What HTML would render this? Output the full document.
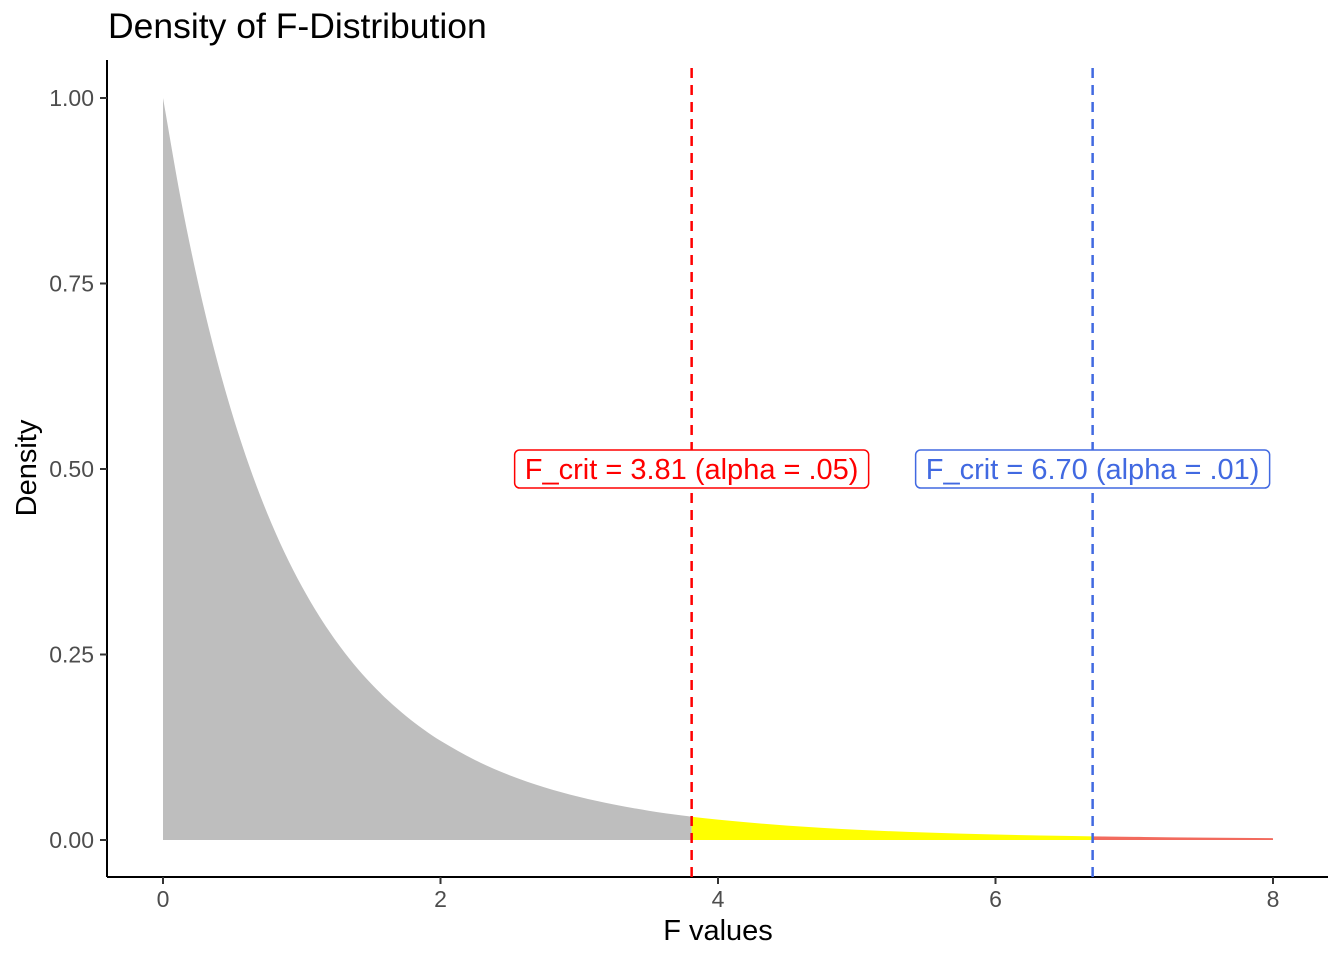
<!DOCTYPE html>
<html><head><meta charset="utf-8"><style>
body{margin:0;background:#fff}
svg{font-family:"Liberation Sans",sans-serif}
</style></head><body>
<svg id="chart" width="1344" height="960">
<text x="108" y="38" font-size="35.5" fill="#000">Density of F-Distribution</text>
<g id="areas"></g>
<g id="axes"></g>
<g id="marks"></g>
<text x="718" y="940" font-size="29" text-anchor="middle">F values</text>
<text transform="translate(36,468) rotate(-90)" font-size="29" text-anchor="middle">Density</text>
</svg>
<script>
const xVals=[0,0.125,0.25,0.375,0.5,0.625,0.75,0.875,1,1.125,1.25,1.375,1.5,1.625,1.75,1.875,2,2.25,2.5,2.75,3,3.25,3.5,3.75,3.81,4,4.5,5,5.5,6,6.5,6.7,7,7.5,8];
const densVals=[1,0.8669,0.7535,0.6566,0.5736,0.5024,0.4409,0.3878,0.3419,0.3020,0.2674,0.2371,0.2107,0.1876,0.1673,0.1494,0.1337,0.1076,0.0871,0.0709,0.0581,0.0478,0.0395,0.0328,0.0314,0.0274,0.0193,0.0138,0.0101,0.0074,0.0055,0.0049,0.00416,0.00317,0.00244];
const critVals=[3.81,6.70];
const critLabels=["F_crit = 3.81 (alpha = .05)","F_crit = 6.70 (alpha = .01)"];
const xTicks=[0,2,4,6,8];
const yTicks=[0,0.25,0.5,0.75,1.0];
const yTickLabels=["0.00","0.25","0.50","0.75","1.00"];
const labelY=0.5;

const NS="http://www.w3.org/2000/svg";
const sx=v=>163+v*138.75, sy=v=>840-v*742;
function mk(tag,attrs,parent){const e=document.createElementNS(NS,tag);for(const k in attrs)e.setAttribute(k,attrs[k]);parent.appendChild(e);return e;}
const areas=document.getElementById('areas'),axes=document.getElementById('axes'),marks=document.getElementById('marks');
const P=xVals.map((x,i)=>[sx(x),sy(densVals[i])]);
const M=P.map((p,i)=>{
  const a=P[Math.max(0,i-1)],b=P[Math.min(P.length-1,i+1)];
  return (b[1]-a[1])/(b[0]-a[0]);
});
const segs=[[0,critVals[0],'#bebebe','area-below-crit05'],[critVals[0],critVals[1],'#ffff00','area-alpha05'],[critVals[1],8,'#f26b5e','area-alpha01']];
segs.forEach(s=>{
  const idx=[];
  xVals.forEach((x,i)=>{if(x>=s[0]-1e-9&&x<=s[1]+1e-9)idx.push(i);});
  let d=`M${sx(s[0])},${sy(0)} L${P[idx[0]][0]},${P[idx[0]][1]}`;
  for(let k=0;k<idx.length-1;k++){
    const i=idx[k],j=idx[k+1],p1=P[i],p2=P[j],h=p2[0]-p1[0];
    d+=` C${p1[0]+h/3},${p1[1]+M[i]*h/3} ${p2[0]-h/3},${p2[1]-M[j]*h/3} ${p2[0]},${p2[1]}`;
  }
  d+=` L${sx(s[1])},${sy(0)} Z`;
  const p=mk('path',{d,fill:s[2]},areas);
  
  
});
const xl=mk('line',{x1:107,y1:877,x2:1328,y2:877,stroke:'#000','stroke-width':2},axes);


const yl=mk('line',{x1:107,y1:60,x2:107,y2:877,stroke:'#000','stroke-width':2},axes);


xTicks.forEach(t=>{
  mk('line',{x1:sx(t),y1:877,x2:sx(t),y2:884,stroke:'#333','stroke-width':2},axes);
  const tx=mk('text',{x:sx(t),y:907,'font-size':23,fill:'#4d4d4d','text-anchor':'middle'},axes);
  tx.textContent=t;
  
  
});
yTicks.forEach((t,i)=>{
  mk('line',{x1:100,y1:sy(t),x2:107,y2:sy(t),stroke:'#333','stroke-width':2},axes);
  const tx=mk('text',{x:94,y:sy(t)+8,'font-size':23,fill:'#4d4d4d','text-anchor':'end'},axes);
  tx.textContent=yTickLabels[i];
  
  
});
const cols=['#ff0000','#4169e1'];
critVals.forEach((c,i)=>{
  const l=mk('line',{x1:sx(c),y1:68,x2:sx(c),y2:877,stroke:cols[i],'stroke-width':2.5,'stroke-dasharray':'10,7'},marks);
  
  
  const w=354,h=38,cx=sx(c),cy=sy(labelY);
  const r=mk('rect',{x:cx-w/2,y:cy-h/2,width:w,height:h,rx:5,fill:'#fff',stroke:cols[i],'stroke-width':1.5},marks);
  
  
  const t=mk('text',{x:cx,y:cy+10,'font-size':29,fill:cols[i],'text-anchor':'middle'},marks);
  t.textContent=critLabels[i];
  
  
});
</script>
</body></html>
